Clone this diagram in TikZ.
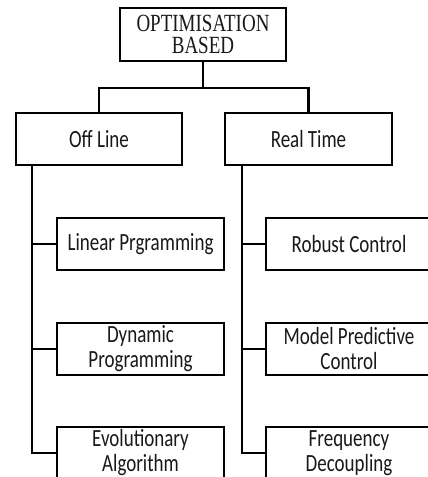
\documentclass[tikz,border=0pt]{standalone}
\usepackage{fontspec}
\usepackage{graphicx}
\setmainfont{Carlito}
\newfontfamily\serifbox{Liberation Serif}
\newcommand{\sy}[1]{\scalebox{1}[1.3]{#1}}
\begin{document}
\begin{tikzpicture}[x=1pt,y=-1pt,
  box/.style={draw=black,line width=2.2pt,inner sep=0pt,minimum width=166pt,minimum height=52pt,align=center,font=\fontsize{19}{25}\selectfont,text=black!90},
  link/.style={draw=black,line width=2.2pt}]
\useasboundingbox (0,0) rectangle (428,477);
\clip (0,0) rectangle (428,477);
\fill[white] (0,0) rectangle (428,477);
\node[box,minimum height=53pt,font=\serifbox\fontsize{19}{22.5}\selectfont] (top) at (203,34.5) {\sy{OPTIMISATION}\\\sy{BASED}};
\node[box] (off) at (99,139) {\sy{Off Line}};
\node[box,minimum width=167pt] (rt) at (308.5,139) {\sy{Real Time}};
\node[box,minimum width=167pt] (lin) at (140.5,244) {\sy{Linear Prgramming}};
\node[box] (rob) at (349,244) {\sy{Robust Control}};
\node[box,minimum width=167pt] (dyn) at (140.5,349) {\sy{Dynamic}\\\sy{Programming}};
\node[box] (mpc) at (349,349) {\sy{Model Predictive}\\\sy{Control}};
\node[box,minimum width=167pt] (evo) at (140.5,453) {\sy{Evolutionary}\\\sy{Algorithm}};
\node[box] (frq) at (349,453) {\sy{Frequency}\\\sy{Decoupling}};
\coordinate (j) at (203,88);
\draw[link] (top.south) -- (j);
\draw[link] (off.north) |- (j) -| (rt.north);
\coordinate (ls) at (32,165);
\coordinate (rs) at (242,165);
\draw[link] (ls) |- (evo.west);
\draw[link] (ls |- lin.west) -- (lin.west);
\draw[link] (ls |- dyn.west) -- (dyn.west);
\draw[link] (rs) |- (frq.west);
\draw[link] (rs |- rob.west) -- (rob.west);
\draw[link] (rs |- mpc.west) -- (mpc.west);
\end{tikzpicture}
\end{document}
